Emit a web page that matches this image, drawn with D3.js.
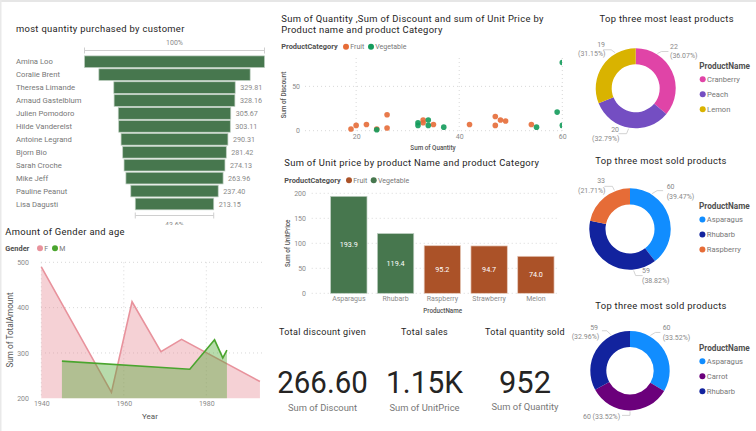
<!DOCTYPE html>
<html>
<head>
<meta charset="utf-8">
<script src="https://cdn.jsdelivr.net/npm/d3@7"></script>
<style>
  html, body { margin: 0; padding: 0; background: #fff; overflow: hidden; }
  svg { display: block; font-family: Roboto, "Open Sans", sans-serif; }
  text { fill: #666; }
  .title { fill: #252423; font-size: 9.4px; letter-spacing: 0.32px; }
  .legend-head { fill: #505050; font-size: 7.4px; font-weight: 700; }
  .legend-item { fill: #777; font-size: 7px; }
  .tick-label { fill: #8a8a8a; font-size: 7px; }
  .axis-title { fill: #555; font-size: 6.3px; font-weight: 500; }
  .axis .domain { display: none; }
  .axis .tick line { display: none; }
  .grid line { stroke: #d8d8d8; stroke-width: 1; stroke-dasharray: 1 3; }
</style>
</head>
<body>
<svg id="chart" width="756" height="431"></svg>
<script>
// funnel
const customers = ["Amina Loo", "Coralie Brent", "Theresa Limande", "Arnaud Gastelblum", "Julien Pomodoro", "Hilde Vanderelst", "Antoine Legrand", "Bjorn Bio", "Sarah Croche", "Mike Jeff", "Pauline Peanut", "Lisa Dagusti"];
const customerQty = [489, 411, 329.81, 328.16, 305.67, 303.11, 290.31, 281.42, 274.13, 263.96, 237.40, 213.15];

// area chart
const yearsF = [1940, 1957, 1962, 1969, 1974, 1993];
const amountF = [490, 213, 413, 303, 330, 237];
const yearsM = [1945, 1976, 1982, 1984, 1985];
const amountM = [282, 264, 329, 289, 306];

// scatter
const fruitQty = [19, 20, 22, 24, 26, 26, 33, 33, 35, 42, 47, 47, 48, 49, 54];
const fruitDiscount = [2, 6, 7, 2, 18, 3, 12, 9, 7, 7, 16, 6, 12, 11, 7];
const vegQty = [24, 32, 32, 34, 34, 37, 55, 59, 60, 60];
const vegDiscount = [1, 9, 6, 12, 6, 4, 4, 21, 6, 77];

// bars
const barProducts = ["Asparagus", "Rhubarb", "Raspberry", "Strawberry", "Melon"];
const barPrices = [193.9, 119.4, 95.2, 94.7, 74.0];
const barCategories = ["Vegetable", "Vegetable", "Fruit", "Fruit", "Fruit"];

// donuts
const leastNames = ["Cranberry", "Peach", "Lemon"];
const leastValues = [22, 20, 19];
const soldNames1 = ["Asparagus", "Rhubarb", "Raspberry"];
const soldValues1 = [60, 59, 33];
const soldNames2 = ["Asparagus", "Carrot", "Rhubarb"];
const soldValues2 = [60, 60, 59];

// cards
const cardTitles = ["Total discount given", "Total sales", "Total quantity sold"];
const cardValues = ["266.60", "1.15K", "952"];
const cardSubs = ["Sum of Discount", "Sum of UnitPrice", "Sum of Quantity"];

const svg = d3.select("#chart");
const defs = svg.append("defs");

function addText(x, y, str, cls, anchor) {
  return svg.append("text")
    .attr("x", x).attr("y", y)
    .attr("dy", "0.35em")
    .attr("class", cls)
    .attr("text-anchor", anchor || "start")
    .text(str);
}

function addLegend(y, head, headX, items) {
  addText(headX, y, head, "legend-head");
  items.forEach(function(d) {
    svg.append("circle").attr("cx", d.dot).attr("cy", y).attr("r", 3).style("fill", d.color);
    addText(d.dot + 4.3, y, d.label, "legend-item");
  });
}

// page edge
svg.append("rect").attr("width", 756).attr("height", 2).style("fill", "#e6e6e6");
svg.append("rect").attr("width", 1.5).attr("height", 431).style("fill", "#e9e9e9");

// ---------- funnel ----------
const funnelCx = 174.5;
const funnelW = d3.scaleLinear().domain([0, d3.max(customerQty)]).range([0, 180]);
const funnelY = d3.scaleBand().domain(customers).range([55.9, 209.8]).paddingInner(0.1);

addText(16, 29, "most quantity purchased by customer", "title");
addText(funnelCx, 43, "100%", "tick-label", "middle");

function bracket(y, value) {
  const half = funnelW(value) / 2;
  svg.append("path")
    .attr("d", "M" + (funnelCx - half) + "," + (y - 3) + "V" + (y + 3) + "M" + (funnelCx - half) + "," + y + "H" + (funnelCx + half) + "M" + (funnelCx + half) + "," + (y - 3) + "V" + (y + 3))
    .style("fill", "none").style("stroke", "#cfcfcf").style("stroke-width", 1);
}
bracket(50.5, customerQty[0]);
bracket(215.5, customerQty[customerQty.length - 1]);

defs.append("clipPath").attr("id", "funnel-clip")
  .append("rect").attr("x", 0).attr("y", 0).attr("width", 280).attr("height", 225);
svg.append("text")
  .attr("clip-path", "url(#funnel-clip)")
  .attr("x", funnelCx).attr("y", 226.5)
  .attr("text-anchor", "middle").attr("class", "tick-label")
  .text("43.6%");

svg.selectAll(".funnel-bar").data(customers).enter().append("rect")
  .attr("class", "funnel-bar")
  .attr("x", function(d, i) { return funnelCx - funnelW(customerQty[i]) / 2; })
  .attr("y", function(d) { return funnelY(d); })
  .attr("width", function(d, i) { return funnelW(customerQty[i]); })
  .attr("height", funnelY.bandwidth())
  .style("fill", "#47774e")
  .style("stroke", "#bccdbf")
  .style("stroke-width", 0.7);

customers.forEach(function(d, i) {
  const cy = funnelY(d) + funnelY.bandwidth() / 2;
  addText(16, cy, d, "legend-item").style("font-size", "7.7px");
  // the two widest bars leave no room for a value label
  if (customerQty[i] < 400) {
    addText(funnelCx + funnelW(customerQty[i]) / 2 + 5, cy, customerQty[i].toFixed(2), "tick-label").style("font-size", "7.2px");
  }
});

// ---------- area ----------
const areaX = d3.scaleLinear().domain([1940, 1980]).range([41.3, 206.3]);
const areaY = d3.scaleLinear().domain([200, 500]).range([398.3, 262.3]);
const areaXTicks = [1940, 1960, 1980];
const areaYTicks = [200, 300, 400, 500];

addText(5.3, 232, "Amount of Gender and age", "title");
addLegend(248.3, "Gender", 5.3, [
  { dot: 40, color: "#e8929c", label: "F" },
  { dot: 55, color: "#4aa52e", label: "M" }
]);

const areaGrid = svg.append("g").attr("class", "grid");
areaGrid.selectAll(".h").data(areaYTicks.slice(1)).enter().append("line")
  .attr("x1", 41).attr("x2", 265)
  .attr("y1", function(d) { return areaY(d); }).attr("y2", function(d) { return areaY(d); });
areaGrid.selectAll(".v").data(areaXTicks).enter().append("line")
  .attr("y1", 262.3).attr("y2", 398.3)
  .attr("x1", function(d) { return areaX(d); }).attr("x2", function(d) { return areaX(d); });

svg.append("g").attr("class", "axis").attr("transform", "translate(0,398.3)")
  .call(d3.axisBottom(areaX).tickValues(areaXTicks).tickFormat(d3.format("d")).tickSize(0).tickPadding(3))
  .call(function(g) { g.selectAll("text").attr("class", "tick-label").style("font-family", "Roboto"); });
svg.append("g").attr("class", "axis").attr("transform", "translate(32,0)")
  .call(d3.axisLeft(areaY).tickValues(areaYTicks).tickSize(0).tickPadding(3))
  .call(function(g) { g.selectAll("text").attr("class", "tick-label").style("font-family", "Roboto"); });

function drawArea(years, amounts, fill, stroke) {
  const pts = years.map(function(y, i) { return [y, amounts[i]]; });
  svg.append("path").datum(pts)
    .attr("d", d3.area().x(function(d) { return areaX(d[0]); }).y0(areaY(200)).y1(function(d) { return areaY(d[1]); }))
    .style("fill", fill).style("fill-opacity", 0.4);
  svg.append("path").datum(pts)
    .attr("d", d3.line().x(function(d) { return areaX(d[0]); }).y(function(d) { return areaY(d[1]); }))
    .style("fill", "none").style("stroke", stroke).style("stroke-width", 1.6);
}
drawArea(yearsF, amountF, "#e68c96", "#e8929c");
drawArea(yearsM, amountM, "#4aa52e", "#4aa52e");

addText(150, 416, "Year", "axis-title").attr("text-anchor", "middle").style("font-size", "8px").style("font-weight", 400);
svg.append("text").attr("transform", "translate(10.3,330) rotate(-90)")
  .attr("dy", "0.35em").attr("text-anchor", "middle").attr("class", "axis-title")
  .style("font-size", "8.2px").style("font-weight", 400)
  .text("Sum of TotalAmount");

// ---------- scatter ----------
const scatX = d3.scaleLinear().domain([10, 60]).range([304.6, 562.3]);
const scatY = d3.scaleLinear().domain([0, 82]).range([130.7, 58]);

addText(281.3, 18.7, "Sum of Quantity ,Sum of Discount and sum of Unit Price by", "title");
addText(281.3, 29.7, "Product name and product Category", "title");
addLegend(46.7, "ProductCategory", 281.3, [
  { dot: 346, color: "#e66c37", label: "Fruit" },
  { dot: 371, color: "#139b5b", label: "Vegetable" }
]);

const scatGrid = svg.append("g").attr("class", "grid");
scatGrid.selectAll(".h").data([0, 50]).enter().append("line")
  .attr("x1", 305).attr("x2", 562)
  .attr("y1", function(d) { return scatY(d); }).attr("y2", function(d) { return scatY(d); });
scatGrid.selectAll(".v").data([20, 40, 60]).enter().append("line")
  .attr("y1", 58).attr("y2", 130.7)
  .attr("x1", function(d) { return scatX(d); }).attr("x2", function(d) { return scatX(d); });

svg.append("g").attr("class", "axis").attr("transform", "translate(0,130.7)")
  .call(d3.axisBottom(scatX).tickValues([20, 40, 60]).tickSize(0).tickPadding(3))
  .call(function(g) { g.selectAll("text").attr("class", "tick-label").style("font-family", "Roboto"); });
svg.append("g").attr("class", "axis").attr("transform", "translate(300,0)")
  .call(d3.axisLeft(scatY).tickValues([0, 50]).tickSize(0).tickPadding(0))
  .call(function(g) { g.selectAll("text").attr("class", "tick-label").style("font-family", "Roboto"); });

defs.append("clipPath").attr("id", "scat-clip")
  .append("rect").attr("x", 300).attr("y", 50).attr("width", 262).attr("height", 90);
const scatG = svg.append("g").attr("clip-path", "url(#scat-clip)");
scatG.selectAll(".fruit").data(fruitQty).enter().append("circle")
  .attr("cx", function(d) { return scatX(d); })
  .attr("cy", function(d, i) { return scatY(fruitDiscount[i]); })
  .attr("r", 2.8).style("fill", "#e66c37").style("fill-opacity", 0.9);
scatG.selectAll(".veg").data(vegQty).enter().append("circle")
  .attr("cx", function(d) { return scatX(d); })
  .attr("cy", function(d, i) { return scatY(vegDiscount[i]); })
  .attr("r", 2.8).style("fill", "#139b5b").style("fill-opacity", 0.9);

addText(433, 147.7, "Sum of Quantity", "axis-title", "middle");
svg.append("text").attr("transform", "translate(283.7,95) rotate(-90)")
  .attr("dy", "0.35em").attr("text-anchor", "middle").attr("class", "axis-title")
  .text("Sum of Discount");

// ---------- bars ----------
const barX = d3.scaleBand().domain(barProducts).range([325.5, 559.2]).paddingInner(0.223).paddingOuter(0.11);
const barY = d3.scaleLinear().domain([0, 200]).range([293.3, 193.3]);
const barColor = d3.scaleOrdinal().domain(["Fruit", "Vegetable"]).range(["#ab5228", "#47774e"]);
const barStroke = d3.scaleOrdinal().domain(["Fruit", "Vegetable"]).range(["#e6c9ba", "#bccdbf"]);

addText(284.3, 162.7, "Sum of Unit price by product Name and product Category", "title");
addLegend(180.3, "ProductCategory", 284.3, [
  { dot: 349, color: "#ab5228", label: "Fruit" },
  { dot: 373.7, color: "#47774e", label: "Vegetable" }
]);

svg.append("g").attr("class", "grid").selectAll("line").data(barY.ticks(4)).enter().append("line")
  .attr("x1", 311.7).attr("x2", 556.7)
  .attr("y1", function(d) { return barY(d); }).attr("y2", function(d) { return barY(d); });

svg.append("g").attr("class", "axis").attr("transform", "translate(308,0)")
  .call(d3.axisLeft(barY).ticks(4).tickSize(0).tickPadding(2))
  .call(function(g) { g.selectAll("text").attr("class", "tick-label").style("font-family", "Roboto"); });
svg.append("g").attr("class", "axis").attr("transform", "translate(0,293.3)")
  .call(d3.axisBottom(barX).tickSize(0).tickPadding(3))
  .call(function(g) { g.selectAll("text").attr("class", "tick-label").style("font-family", "Roboto"); });

svg.selectAll(".bar").data(barProducts).enter().append("rect")
  .attr("class", "bar")
  .attr("x", function(d) { return barX(d); })
  .attr("y", function(d, i) { return barY(barPrices[i]); })
  .attr("width", barX.bandwidth())
  .attr("height", function(d, i) { return barY(0) - barY(barPrices[i]); })
  .style("fill", function(d, i) { return barColor(barCategories[i]); })
  .style("stroke", function(d, i) { return barStroke(barCategories[i]); })
  .style("stroke-width", 0.7);

svg.selectAll(".bar-label").data(barProducts).enter().append("text")
  .attr("class", "bar-label")
  .attr("x", function(d) { return barX(d) + barX.bandwidth() / 2; })
  .attr("y", function(d, i) { return (barY(barPrices[i]) + barY(0)) / 2; })
  .attr("dy", "0.35em").attr("text-anchor", "middle")
  .style("fill", "#fff").style("font-size", "7.2px")
  .text(function(d, i) { return barPrices[i].toFixed(1); });

addText(442.7, 311, "ProductName", "axis-title", "middle");
svg.append("text").attr("transform", "translate(287.3,243.3) rotate(-90)")
  .attr("dy", "0.35em").attr("text-anchor", "middle").attr("class", "axis-title")
  .text("Sum of UnitPrice");

// ---------- donuts ----------
function drawDonut(o) {
  const pie = d3.pie().sort(null);
  const arc = d3.arc().innerRadius(o.r0).outerRadius(o.r1);
  const total = d3.sum(o.values);
  const g = svg.append("g").attr("transform", "translate(" + o.cx + "," + o.cy + ")");
  g.selectAll("path").data(pie(o.values)).enter().append("path")
    .attr("d", arc)
    .style("fill", function(d, i) { return o.colors[i]; });

  addText(o.titleX, o.titleY, o.title, "title", "middle");

  o.leaders.forEach(function(l, i) {
    const a = l.angle * Math.PI / 180;
    const sx = o.cx + (o.r1 + 1) * Math.sin(a), sy = o.cy - (o.r1 + 1) * Math.cos(a);
    svg.append("path")
      .attr("d", d3.line()([[sx, sy], [sx + l.dx1, sy + l.dy1], [sx + l.dx1 + l.dx2, sy + l.dy1]]))
      .style("fill", "none").style("stroke", "#c8c8c8").style("stroke-width", 0.8);
    const pct = "(" + (o.values[i] / total * 100).toFixed(2) + "%)";
    if (l.inline) {
      addText(l.x, l.y1, o.values[i] + " " + pct, "tick-label");
    } else {
      addText(l.x2 === undefined ? l.x : l.x2, l.y1, o.values[i], "tick-label", l.anchor1 || "start");
      addText(l.x, l.y2, pct, "tick-label");
    }
  });

  addText(o.legendX, o.legendY, "ProductName", "legend-head").style("font-size", "8.2px");
  o.names.forEach(function(n, i) {
    const y = o.legendY + 13.3 + i * 15;
    svg.append("circle").attr("cx", o.legendX + 3.4).attr("cy", y).attr("r", 3).style("fill", o.colors[i]);
    addText(o.legendX + 7.8, y, n, "legend-item").style("font-size", "7.6px");
  });
}

drawDonut({
  title: "Top three most least products", titleX: 666.7, titleY: 19,
  cx: 635.7, cy: 88.3, r0: 24, r1: 40,
  names: leastNames, values: leastValues,
  colors: ["#e044a7", "#744ec2", "#d9b300"],
  legendX: 699.3, legendY: 66,
  leaders: [
    { angle: 32, dx1: 4, dy1: -2, dx2: 7, x: 670, y1: 46.7, y2: 55.7 },
    { angle: 190, dx1: -2, dy1: 5, dx2: -8, x: 592, x2: 619, anchor1: "end", y1: 129.7, y2: 138.7 },
    { angle: -30, dx1: -4, dy1: -3, dx2: -8, x: 578, x2: 605, anchor1: "end", y1: 44.7, y2: 53.3 }
  ]
});
drawDonut({
  title: "Top three most sold products", titleX: 661, titleY: 160.7,
  cx: 630, cy: 229, r0: 24.5, r1: 40.7,
  names: soldNames1, values: soldValues1,
  colors: ["#118dff", "#12239e", "#e66c37"],
  legendX: 699, legendY: 206.3,
  leaders: [
    { angle: 32, dx1: 5, dy1: -3, dx2: 6, x: 666.7, y1: 186.3, y2: 196.7 },
    { angle: 175, dx1: 2, dy1: 5, dx2: 7, x: 642, y1: 270.7, y2: 280.7 },
    { angle: -22, dx1: -2, dy1: -4, dx2: -8, x: 578, x2: 605, anchor1: "end", y1: 180.3, y2: 190.7 }
  ]
});
drawDonut({
  title: "Top three most sold products", titleX: 661, titleY: 305.7,
  cx: 630, cy: 370.7, r0: 23.7, r1: 39.7,
  names: soldNames2, values: soldValues2,
  colors: ["#118dff", "#6b007b", "#12239e"],
  legendX: 699, legendY: 348,
  leaders: [
    { angle: 30, dx1: 5, dy1: -3, dx2: 5, x: 662.7, y1: 327.3, y2: 337.7 },
    { angle: 180, dx1: 0, dy1: 4, dx2: -8, x: 583, y1: 416.7, inline: true },
    { angle: -28, dx1: -4, dy1: -4, dx2: -5, x: 571.7, x2: 598, anchor1: "end", y1: 327.3, y2: 337 }
  ]
});

// ---------- cards ----------
const cardX = [322.5, 424.5, 525];
const cardValueW = [90.5, 77, 52];
cardTitles.forEach(function(t, i) {
  addText(cardX[i], 331.7, t, "title", "middle").style("font-size", "9px");
  // digits in the original are narrower than Roboto, so squeeze them to the measured width
  addText(cardX[i], 381.7, cardValues[i], "title", "middle")
    .style("font-size", "32px").style("letter-spacing", "0")
    .attr("textLength", cardValueW[i]).attr("lengthAdjust", "spacingAndGlyphs");
  addText(cardX[i], i === 2 ? 406.7 : 407.7, cardSubs[i], "legend-item", "middle").style("font-size", "9.4px");
});
</script>
</body>
</html>
